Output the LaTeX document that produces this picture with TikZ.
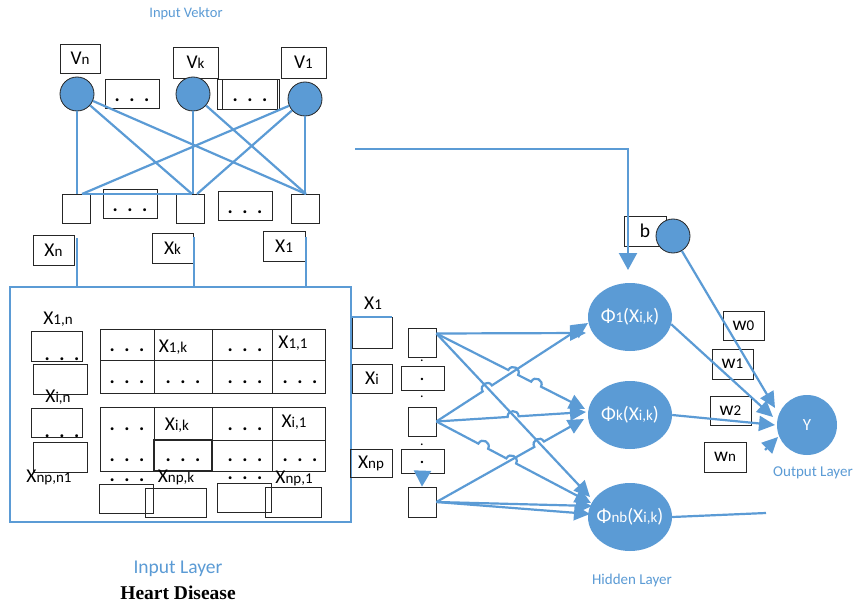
\documentclass[tikz,border=0pt]{standalone}
\usepackage{fontspec}
\setmainfont{Carlito}
\newfontfamily\tnr{Liberation Serif}
\usetikzlibrary{arrows.meta,calc,shapes.geometric}
\definecolor{myblue}{HTML}{5B9BD5}
\newcommand\sbs[1]{{\fontsize{15}{15}\selectfont #1}}
\newcommand\ddd{{\bfseries .\hspace{9.5pt}.\hspace{9.5pt}.}}
\newcommand\mkhop[4]{%
  \coordinate (#1) at ($(#2)!#4!(#3)$);
  \coordinate (#1a) at ($(#1)!5.5pt!(#2)$);
  \coordinate (#1b) at ($(#1)!5.5pt!(#3)$);
  \coordinate (#1c) at ($(#1a)!7.3pt!90:(#1)$);
  \coordinate (#1d) at ($(#1b)!7.3pt!-90:(#1)$);
}
\begin{document}
\begin{tikzpicture}[x=1pt,y=-1pt,
  bx/.style={draw=black!85, line width=0.75pt, inner sep=0pt, font=\fontsize{19.5}{19.5}\selectfont},
  txt/.style={inner sep=0pt, font=\fontsize{19.5}{19.5}\selectfont},
  conn/.style={draw=myblue, line width=2.2pt},
  arr/.style={conn, -{Triangle[length=16pt,width=15pt]}},
  inc/.style={circle, draw=black!85, line width=0.8pt, fill=myblue, minimum size=34, inner sep=0pt},
  hid/.style={ellipse, fill=myblue, minimum width=84, minimum height=68, inner sep=0pt},
  wtxt/.style={inner sep=0pt, text=white, font=\fontsize{19.5}{19.5}\selectfont},
  btxt/.style={inner sep=0pt, text=myblue},
  sqb/.style={bx, minimum width=28, minimum height=29},
]
\fill[white] (0,0) rectangle (854,604);
\useasboundingbox (0,0) rectangle (854,604);

% ---------------- Input vector ----------------
\node[btxt, font=\fontsize{14.5}{14.5}\selectfont] (tiv) at (186,14) {Input Vektor};
\node[bx, minimum width=40, minimum height=29] (vnb) at (80,58.5) {V\sbs{n}};
\node[bx, minimum width=45, minimum height=31] (vkb) at (195.5,62.5) {V\sbs{k}};
\node[bx, minimum width=45, minimum height=31] (v1b) at (303.5,62.5) {V\sbs{1}};
\node[bx, minimum width=54, minimum height=29] (d1) at (132,93.5) {};
\node[txt] (d1t) at (132,100) {\ddd};
\node[bx, minimum width=62, minimum height=30] (d2o) at (248,94) {};
\node[bx, minimum width=55, minimum height=30] (d2) at (250,94) {};
\node[txt] (d2t) at (250,100) {\ddd};

\node[sqb] (sqn) at (76,208.5) {};
\node[sqb] (sqk) at (190.5,208.5) {};
\node[sqb] (sq1) at (305,208.5) {};
\node[bx, minimum width=54, minimum height=29] (d3) at (130,203.5) {};
\node[txt] (d3t) at (130,210.5) {\ddd};
\node[bx, minimum width=54, minimum height=29] (d4) at (245,205.5) {};
\node[txt] (d4t) at (245,212) {\ddd};

\node[inc] (cvn) at (77,94) {};
\node[inc] (cvk) at (193,94) {};
\node[inc] (cv1) at (305,99) {};

\coordinate (pn) at (82,194);
\coordinate (pk) at (192,194);
\coordinate (pk2) at (197,194);
\coordinate (p1) at (306,194);
\draw[conn] (cvn.south) -- (cvn.south |- pn);
\draw[conn] (cvn) -- (pk);
\draw[conn] (cvn) -- (p1);
\draw[conn] (cvk.south) -- (cvk.south |- pk);
\draw[conn] (cvk) -- (p1);
\draw[conn] (cv1) -- (pn);
\draw[conn] (cv1) -- (pk2);
\draw[conn] (cv1.south) -- (cv1.south |- p1);
\draw[conn] (pn) -- (pk);

\node[bx, minimum width=41, minimum height=30] (xnb) at (53.5,250) {X\sbs{n}};
\node[bx, minimum width=41, minimum height=30] (xkb) at (172.5,248) {X\sbs{k}};
\node[bx, minimum width=42, minimum height=30] (x1b) at (284,246) {X\sbs{1}};

% ---------------- Input layer ----------------
\node[draw=myblue, line width=2pt, minimum width=341, minimum height=235, inner sep=0pt] (inl) at (180.5,404.5) {};
\coordinate (xnt) at (77,238);
\coordinate (xkt) at (194,237);
\coordinate (x1t) at (306,237);
\draw[conn] (xnt) -- (xnt |- inl.north);
\draw[conn] (xkt) -- (xkt |- inl.north);
\draw[conn] (x1t) -- (x1t |- inl.north);

\node[txt] (l1) at (58,319) {X\sbs{1,n}};
\node[bx, minimum width=51, minimum height=30] (lb1) at (56.5,346) {};
\node[txt] (lb1t) at (62,359) {\ddd};
\node[bx, minimum width=54, minimum height=30] (lb2) at (60,379) {};
\node[txt] (l2) at (58,397) {X\sbs{i,n}};
\node[bx, minimum width=51, minimum height=29] (lb3) at (56.5,422.5) {};
\node[txt] (lb3t) at (62,436) {\ddd};
\node[bx, minimum width=54, minimum height=30] (lb4) at (60,457) {};
\node[txt] (l3) at (49,477) {X\sbs{np,n1}};

% grid 1
\node[bx, minimum width=54, minimum height=31] (g11) at (127,344.5) {};
\node[bx, minimum width=58, minimum height=31] (g12) at (183,344.5) {};
\node[bx, minimum width=60, minimum height=31] (g13) at (242,344.5) {};
\node[bx, minimum width=53, minimum height=31] (g14) at (298.5,344.5) {};
\node[bx, minimum width=54, minimum height=33] (g21) at (127,376.5) {};
\node[bx, minimum width=58, minimum height=33] (g22) at (183,376.5) {};
\node[bx, minimum width=60, minimum height=33] (g23) at (242,376.5) {};
\node[bx, minimum width=53, minimum height=33] (g24) at (298.5,376.5) {};
\node[txt] (g11t) at (127,350) {\ddd};
\node[txt] (g12t) at (173,347) {X\sbs{1,k}};
\node[txt] (g13t) at (245,350) {\ddd};
\node[txt] (g14t) at (293,343) {X\sbs{1,1}};
\node[txt] (g21t) at (127,382) {\ddd};
\node[txt] (g22t) at (183,382) {\ddd};
\node[txt] (g23t) at (245,382) {\ddd};
\node[txt] (g24t) at (300,382) {\ddd};

% grid 2
\node[bx, minimum width=54, minimum height=64] (k1) at (127,439) {};
\node[bx, minimum width=58, minimum height=33] (k12) at (183,423.5) {};
\node[bx, minimum width=60, minimum height=33] (k13) at (242,423.5) {};
\node[bx, minimum width=53, minimum height=33] (k14) at (298.5,423.5) {};
\node[bx, minimum width=58, minimum height=31, line width=1.1pt] (k22) at (183,455.5) {};
\node[bx, minimum width=60, minimum height=31] (k23) at (242,455.5) {};
\node[bx, minimum width=53, minimum height=31] (k24) at (298.5,455.5) {};
\node[txt] (k11t) at (127,429) {\ddd};
\node[txt] (k12t) at (177,425) {X\sbs{i,k}};
\node[txt] (k13t) at (245,429) {\ddd};
\node[txt] (k14t) at (294,422) {X\sbs{i,1}};
\node[txt] (k21t) at (127,460) {\ddd};
\node[txt] (k22t) at (183,460) {\ddd};
\node[txt] (k23t) at (245,460) {\ddd};
\node[txt] (k24t) at (300,460) {\ddd};

% below grids
\node[txt] (u1) at (127,480) {\ddd};
\node[txt] (u2) at (176,477) {X\sbs{np,k}};
\node[txt] (u3) at (245,478) {\ddd};
\node[txt] (u4) at (294,478) {X\sbs{np,1}};
\node[bx, minimum width=54, minimum height=29] (bb1) at (126,498.5) {};
\node[bx, minimum width=61, minimum height=29] (bb2) at (175.5,502.5) {};
\node[bx, minimum width=54, minimum height=29] (bb3) at (244,497.5) {};
\node[bx, minimum width=56, minimum height=30] (bb4) at (293,502) {};

\node[btxt, font=\fontsize{19.5}{19.5}\selectfont] (ilay) at (178,569) {Input Layer};
\node[inner sep=0pt, font=\fontsize{19.5}{19.5}\selectfont\tnr\bfseries] (hd) at (178,593) {Heart Disease};

% ---------------- middle ----------------
\node[txt] (mx1l) at (373,303) {X\sbs{1}};
\node[bx, minimum width=40, minimum height=31] (mx1) at (372,332.5) {};
\draw[conn] (inl.east |- mx1.north) -- (mx1.north east);
\node[bx, minimum width=40, minimum height=29] (mxi) at (372,378.5) {X\sbs{i}};
\node[bx, minimum width=42, minimum height=28] (mxnp) at (371,463) {X\sbs{np}};

\node[sqb] (s1n) at (422,342.5) {};
\node[sqb] (s2n) at (422,421.5) {};
\node[bx, minimum width=28, minimum height=30] (s3n) at (422,502) {};
\node[bx, minimum width=43, minimum height=24] (md1) at (422.5,378) {};
\node[txt] (md1t) at (422,379) {.};
\node[bx, minimum width=43, minimum height=24] (md2) at (422.5,461) {};
\node[txt] (md2t) at (422,462) {.};
\node[txt, font=\fontsize{14}{14}\selectfont] (sd1) at (422,361) {.};
\node[txt, font=\fontsize{14}{14}\selectfont] (sd2) at (422,397) {.};
\node[txt, font=\fontsize{14}{14}\selectfont] (sd3) at (422,445) {.};
\coordinate (ma) at ($(md2.south)+(0,-2)$);
\draw[conn, -{Triangle[length=16pt,width=17pt]}] (ma) -- (s3n.north);

% ---------------- hidden layer ----------------
\node[hid] (h1) at (630,317) {};
\node[wtxt] (h1t) at (h1) {Φ\sbs{1}(X\sbs{i,k})};
\node[hid] (hk) at (630,415) {};
\node[wtxt] (hkt) at (hk) {Φ\sbs{k}(X\sbs{i,k})};
\node[hid] (hnb) at (630,517) {};
\node[wtxt] (hnbt) at (hnb) {Φ\sbs{nb}(X\sbs{i,k})};
\node[btxt, font=\fontsize{15}{15}\selectfont] (hlay) at (632,580) {Hidden Layer};

\coordinate (o1) at ($(s1n.east)+(0,-9)$);
\coordinate (o2) at (s2n.east);
\coordinate (o3) at (s3n.east);
\coordinate (t11) at (586,333);
\coordinate (t12) at (585,409);
\coordinate (t13) at (590,497);
\coordinate (t21) at (588,323);
\coordinate (t22) at (586,412);
\coordinate (t23) at (591,503);
\coordinate (t32) at (584,419);
\coordinate (t33) at (592,506);
\coordinate (t34) at (590,514);

\mkhop{ha}{o1}{t12}{0.517}
\mkhop{hb}{o1}{t12}{0.671}
\mkhop{hc}{o2}{t21}{0.336}
\mkhop{hd}{o2}{t22}{0.513}
\mkhop{he}{o2}{t23}{0.303}
\mkhop{hf}{o2}{t23}{0.484}
\mkhop{hg}{o3}{t32}{0.696}

\draw[arr] (o1) -- (t11);
\draw[arr] (o1) -- (haa) .. controls (hac) and (had) .. (hab) -- (hba) .. controls (hbc) and (hbd) .. (hbb) -- (t12);
\draw[arr] (o1) -- (t13);
\draw[arr] (o2) -- (hca) .. controls (hcc) and (hcd) .. (hcb) -- (t21);
\draw[arr] (o2) -- (hda) .. controls (hdc) and (hdd) .. (hdb) -- (t22);
\draw[arr] (o2) -- (hea) .. controls (hec) and (hed) .. (heb) -- (hfa) .. controls (hfc) and (hfd) .. (hfb) -- (t23);
\draw[arr] (o3) -- (hga) .. controls (hgc) and (hgd) .. (hgb) -- (t32);
\draw[arr] (o3) -- (t33);
\draw[arr] (o3) -- (t34);

% ---------------- bias and output ----------------
\node[bx, minimum width=42, minimum height=30] (bbx) at (645,231) {b};
\node[inc] (bc) at (673,236) {};
\coordinate (fb) at (355,149);
\coordinate (bt) at (628,270);
\draw[conn, -{Triangle[length=17pt,width=18pt]}] (fb) -| (bt);

\node[circle, fill=myblue, minimum size=60, inner sep=0pt, text=white, font=\fontsize{17}{17}\selectfont] (Y) at (807,425) {Y};
\node[btxt, font=\fontsize{15}{15}\selectfont] (olay) at (813,473) {Output Layer};

\node[bx, minimum width=41, minimum height=29] (w0) at (743.5,325.5) {w\sbs{0}};
\node[bx, minimum width=41, minimum height=30] (w1) at (732.5,364) {w\sbs{1}};
\node[bx, minimum width=41, minimum height=29] (w2) at (730.5,410.5) {w\sbs{2}};
\node[bx, minimum width=42, minimum height=30] (wn) at (725,457) {w\sbs{n}};

\coordinate (yt1) at (775,408);
\coordinate (yt2) at (773,417);
\coordinate (yt3) at (775,425);
\coordinate (yt4) at (778,437);
\coordinate (ys4) at (765,450);
\coordinate (hend) at (766,513);
\draw[arr] (bc) -- (yt1);
\draw[arr] (h1.-10) -- (yt2);
\draw[arr] (hk.east) -- (yt3);
\draw[arr] (ys4) -- (yt4);
\draw[conn] (hnb.east) -- (hend);
\end{tikzpicture}
\end{document}
